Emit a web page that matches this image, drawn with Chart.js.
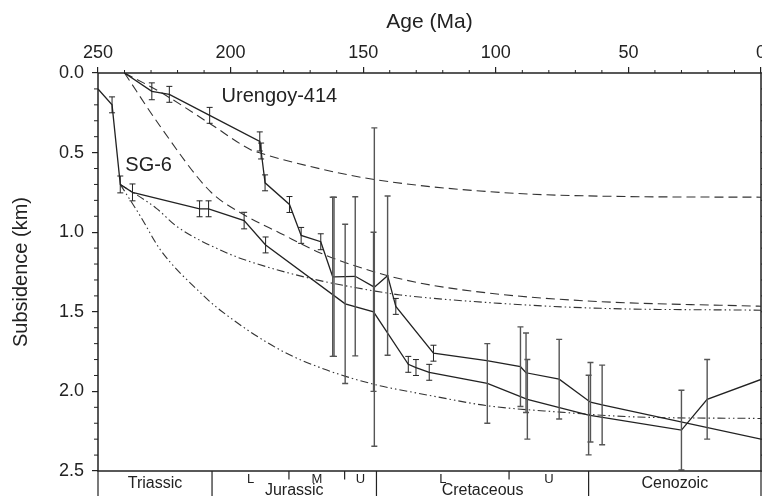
<!DOCTYPE html>
<html>
<head>
<meta charset="utf-8">
<script src="https://cdn.jsdelivr.net/npm/chart.js@4.4.0/dist/chart.umd.min.js"></script>
<style>
  html, body { margin: 0; padding: 0; background: #fff; }
  #wrap { width: 762px; height: 496px; }
</style>
</head>
<body>
<div id="wrap"><canvas id="chart" width="762" height="496"></canvas></div>
<script>
// Observed subsidence, well Urengoy-414 (age Ma, depth km, half error km)
const urengoyAge   = [240, 229.7, 223.1, 207.9, 189.0, 188.5, 187.0, 177.8, 173.4, 166.0, 161.5, 161.0, 153.0, 145.8, 140.8, 137.7, 123.5, 103.4, 90.7, 88.6, 76.1, 64.3, 59.9, 0];
const urengoyDepth = [0, 0.115, 0.134, 0.266, 0.43, 0.49, 0.69, 0.826, 1.02, 1.06, 1.28, 1.28, 1.277, 1.345, 1.273, 1.466, 1.76, 1.807, 1.845, 1.883, 1.923, 2.068, 2.085, 2.30];
const urengoyErr   = [0, 0.053, 0.05, 0.05, 0.06, 0.05, 0.05, 0.05, 0.05, 0.05, 0.5, 0.5, 0.5, 1.0, 0.5, 0.05, 0.05, 0, 0.25, 0.25, 0.25, 0.25, 0.25, 0];

// Observed subsidence, well SG-6
const sg6Age   = [250, 244.7, 241.6, 237.0, 211.7, 208.3, 194.9, 186.8, 156.8, 146.1, 133.0, 130.1, 125.1, 103.2, 88.1, 65.0, 30.0, 20.3, 0];
const sg6Depth = [0.10, 0.20, 0.70, 0.75, 0.853, 0.853, 0.927, 1.08, 1.45, 1.50, 1.83, 1.85, 1.88, 1.95, 2.05, 2.149, 2.243, 2.05, 1.925];
const sg6Err   = [0, 0.05, 0.053, 0.053, 0.05, 0.05, 0.052, 0.05, 0.5, 0.5, 0.05, 0.05, 0.05, 0.25, 0.25, 0.25, 0.25, 0.25, 0];

// Model curves
const upperDashAge   = [240, 226.5, 207.6, 192.6, 188.8, 170, 145.5, 98.4, 50.7, 0];
const upperDashDepth = [0, 0.12, 0.32, 0.48, 0.503, 0.587, 0.67, 0.75, 0.776, 0.78];
const lowerDashAge   = [240, 226.5, 207.6, 195, 181.3, 166.2, 146.1, 128.4, 98.4, 60.6, 0];
const lowerDashDepth = [0, 0.336, 0.745, 0.89, 1.006, 1.13, 1.248, 1.32, 1.39, 1.436, 1.465];
const upperDotAge    = [241.6, 228, 220.2, 201.4, 192.6, 170, 145.5, 136, 98.4, 60.6, 0];
const upperDotDepth  = [0.70, 0.85, 0.965, 1.13, 1.185, 1.29, 1.37, 1.394, 1.447, 1.478, 1.49];
const lowerDotAge    = [241.6, 234, 226.5, 211.4, 203.9, 181.3, 163.7, 144.9, 133, 123.5, 103.2, 75.8, 48.2, 0];
const lowerDotDepth  = [0.70, 0.90, 1.11, 1.38, 1.49, 1.74, 1.866, 1.96, 2.0, 2.03, 2.09, 2.13, 2.16, 2.17];

// Axes
const ageTicks = [250, 200, 150, 100, 50, 0];
const depthTicks = [0, 0.5, 1.0, 1.5, 2.0, 2.5];

// Curve labels
const curveLabels = ['Urengoy-414', 'SG-6'];
const curveLabelAge = [203.4, 239.7];
const curveLabelDepth = [0.147, 0.583];

// Stratigraphic column
const periodNames = ['Triassic', 'Jurassic', 'Cretaceous', 'Cenozoic'];
const periodBounds = [250, 207, 145, 65, 0];
const periodLow = [false, true, true, false];
const epochNames = ['L', 'M', 'U', 'L', 'U'];
const epochMid = [192.5, 167.5, 151, 120, 80];
const epochBounds = [178, 157, 95];

const FONT = '"Liberation Sans", Arial, Helvetica, sans-serif';
const INK = '#222';

const pts = (ages, depths) => ages.map((a, i) => ({ x: a, y: depths[i] }));

function observed(ages, depths, errs) {
  return {
    data: pts(ages, depths),
    errs: errs,
    borderColor: INK,
    borderWidth: 1.3,
    pointRadius: 0,
    showLine: true,
    tension: 0
  };
}

function model(ages, depths, dash) {
  return {
    data: pts(ages, depths),
    borderColor: '#333',
    borderWidth: 1.1,
    borderDash: dash,
    pointRadius: 0,
    showLine: true,
    cubicInterpolationMode: 'monotone'
  };
}

const decorations = {
  id: 'decorations',
  afterDatasetsDraw(chart) {
    const { ctx, chartArea: a, scales: { x, y } } = chart;

    // error bars
    ctx.save();
    ctx.beginPath();
    ctx.rect(a.left, a.top, a.right - a.left, a.bottom - a.top);
    ctx.clip();
    chart.data.datasets.forEach((ds) => {
      if (!ds.errs) return;
      ds.data.forEach((p, i) => {
        const e = ds.errs[i];
        if (!e) return;
        const px = x.getPixelForValue(p.x);
        const y1 = y.getPixelForValue(p.y - e);
        const y2 = y.getPixelForValue(p.y + e);
        ctx.strokeStyle = e >= 0.25 ? '#555' : INK;
        ctx.lineWidth = e >= 0.25 ? 1.4 : 1;
        ctx.beginPath();
        ctx.moveTo(px, y1); ctx.lineTo(px, y2);
        ctx.moveTo(px - 3, y1); ctx.lineTo(px + 3, y1);
        ctx.moveTo(px - 3, y2); ctx.lineTo(px + 3, y2);
        ctx.stroke();
      });
    });
    ctx.restore();

    ctx.save();
    // frame
    ctx.strokeStyle = INK;
    ctx.lineWidth = 1.5;
    ctx.strokeRect(a.left, a.top, a.right - a.left, a.bottom - a.top);

    // minor ticks
    ctx.lineWidth = 1;
    ctx.beginPath();
    for (let v = 0; v <= 250; v += 10) {
      if (v % 50 === 0) continue;
      const px = x.getPixelForValue(v);
      ctx.moveTo(px, a.top); ctx.lineTo(px, a.top - 3);
    }
    for (let k = 0; k <= 25; k++) {
      const py = y.getPixelForValue(k / 10);
      if (k % 5 !== 0) { ctx.moveTo(a.left, py); ctx.lineTo(a.left - 4, py); }
      ctx.moveTo(a.right, py); ctx.lineTo(a.right + 4, py);
    }
    ctx.stroke();

    // curve labels
    ctx.fillStyle = INK;
    ctx.font = `20px ${FONT}`;
    ctx.textAlign = 'left';
    ctx.textBaseline = 'middle';
    curveLabels.forEach((t, i) => {
      ctx.fillText(t, x.getPixelForValue(curveLabelAge[i]), y.getPixelForValue(curveLabelDepth[i]));
    });

    // stratigraphic column under the plot
    const H = chart.height;
    ctx.lineWidth = 1.2;
    ctx.beginPath();
    periodBounds.forEach((b) => {
      const px = x.getPixelForValue(b);
      ctx.moveTo(px, a.bottom); ctx.lineTo(px, H);
    });
    epochBounds.forEach((b) => {
      const px = x.getPixelForValue(b);
      ctx.moveTo(px, a.bottom); ctx.lineTo(px, a.bottom + 8.5);
    });
    ctx.stroke();

    ctx.textAlign = 'center';
    ctx.textBaseline = 'alphabetic';
    ctx.font = `16px ${FONT}`;
    periodNames.forEach((n, i) => {
      const mid = (periodBounds[i] + periodBounds[i + 1]) / 2;
      ctx.fillText(n, x.getPixelForValue(mid), periodLow[i] ? a.bottom + 24 : a.bottom + 16.5);
    });
    ctx.font = `13px ${FONT}`;
    epochNames.forEach((n, i) => {
      ctx.fillText(n, x.getPixelForValue(epochMid[i]), a.bottom + 12);
    });
    ctx.restore();
  }
};

new Chart(document.getElementById('chart'), {
  type: 'scatter',
  data: {
    datasets: [
      observed(urengoyAge, urengoyDepth, urengoyErr),
      observed(sg6Age, sg6Depth, sg6Err),
      model(upperDashAge, upperDashDepth, [9, 5]),
      model(lowerDashAge, lowerDashDepth, [9, 5]),
      model(upperDotAge, upperDotDepth, [8, 3, 1.5, 3, 1.5, 3]),
      model(lowerDotAge, lowerDotDepth, [8, 3, 1.5, 3, 1.5, 3])
    ]
  },
  options: {
    responsive: false,
    devicePixelRatio: 1,
    animation: false,
    layout: { padding: { left: 0, top: 0, right: 1, bottom: 25 } },
    plugins: { legend: { display: false }, tooltip: { enabled: false } },
    scales: {
      x: {
        type: 'linear',
        position: 'top',
        min: 0,
        max: 250,
        reverse: true,
        afterBuildTicks: (s) => { s.ticks = ageTicks.map((v) => ({ value: v })); },
        afterFit: (s) => { s.height = 73; s.paddingLeft = 0; s.paddingRight = 0; },
        ticks: { color: INK, font: { family: FONT, size: 18 }, padding: 3 },
        grid: { display: true, drawOnChartArea: false, drawTicks: true, tickLength: 6, color: INK, lineWidth: 1.2 },
        border: { display: false },
        title: { display: true, text: 'Age (Ma)', color: INK, font: { family: FONT, size: 21 }, padding: { top: 10, bottom: 0 } }
      },
      y: {
        type: 'linear',
        position: 'left',
        min: 0,
        max: 2.5,
        reverse: true,
        afterBuildTicks: (s) => { s.ticks = depthTicks.map((v) => ({ value: v })); },
        afterFit: (s) => { s.width = 98; s.paddingTop = 0; s.paddingBottom = 0; },
        ticks: { color: INK, font: { family: FONT, size: 18 }, padding: 8, callback: (v) => Number(v).toFixed(1) },
        grid: { display: true, drawOnChartArea: false, drawTicks: true, tickLength: 6, color: INK, lineWidth: 1.2 },
        border: { display: false },
        title: { display: true, text: 'Subsidence (km)', color: INK, font: { family: FONT, size: 20 }, padding: { top: 9, bottom: 0 } }
      }
    }
  },
  plugins: [decorations]
});
</script>
</body>
</html>
